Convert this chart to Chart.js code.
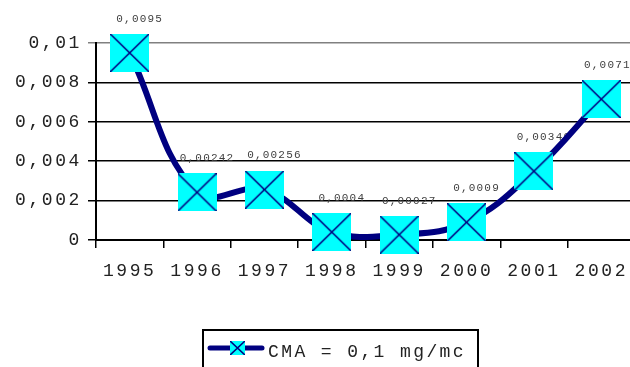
<!DOCTYPE html>
<html>
<head>
<meta charset="utf-8">
<script src="https://cdn.jsdelivr.net/npm/chart.js@4.4.1/dist/chart.umd.min.js"></script>
<style>
  html, body { margin: 0; padding: 0; background: #fff; overflow: hidden; }
  #wrap { width: 630px; height: 367px; overflow: hidden; }
</style>
</head>
<body>
<div id="wrap"><canvas id="chart" width="661" height="367"></canvas></div>
<script>
// date
const years = ['1995', '1996', '1997', '1998', '1999', '2000', '2001', '2002'];
const cmaValues = [0.0095, 0.00242, 0.00256, 0.0004, 0.00027, 0.0009, 0.00349, 0.00715];
const cmaLabels = ['0,0095', '0,00242', '0,00256', '0,0004', '0,00027', '0,0009', '0,00349', '0,00715'];
const seriesName = 'CMA = 0,1 mg/mc';

const NAVY = '#000080';
const CYAN = '#00ffff';
const FONT = '"Liberation Mono", "DejaVu Sans Mono", monospace';

// marker: patrat cyan cu X
function makeMarker(w, h, lw) {
    const c = document.createElement('canvas');
    c.width = w;
    c.height = h;
    const g = c.getContext('2d');
    g.fillStyle = CYAN;
    g.fillRect(0, 0, w, h);
    g.strokeStyle = NAVY;
    g.lineWidth = lw;
    g.beginPath();
    g.moveTo(0, 0); g.lineTo(w, h);
    g.moveTo(w, 0); g.lineTo(0, h);
    g.stroke();
    return c;
}
const bigMarker = makeMarker(39, 38, 1.6);
const smallMarker = makeMarker(15, 14, 1.6);

// spatiere litere ca in Excel
const spacingPlugin = {
    id: 'spacing',
    beforeLayout(chart) { chart.ctx.letterSpacing = '2.6px'; },
    beforeDraw(chart) { chart.ctx.letterSpacing = '2.6px'; }
};

// etichete valori
const valueLabels = {
    id: 'valueLabels',
    beforeDatasetsDraw(chart) {
        const ctx = chart.ctx;
        const meta = chart.getDatasetMeta(0);
        ctx.save();
        ctx.letterSpacing = '1.2px';
        ctx.font = '11px ' + FONT;
        ctx.fillStyle = '#404040';
        ctx.textAlign = 'center';
        ctx.textBaseline = 'middle';
        meta.data.forEach((pt, i) => {
            ctx.fillText(cmaLabels[i], pt.x + 10, pt.y - 34);
        });
        ctx.restore();
    }
};

// legenda cu chenar
const boxLegend = {
    id: 'boxLegend',
    afterDraw(chart) {
        const ctx = chart.ctx;
        ctx.save();
        ctx.strokeStyle = '#000';
        ctx.lineWidth = 2;
        ctx.strokeRect(203, 330, 275, 60);
        ctx.strokeStyle = NAVY;
        ctx.lineWidth = 5;
        ctx.lineCap = 'round';
        ctx.beginPath();
        ctx.moveTo(210, 348);
        ctx.lineTo(262, 348);
        ctx.stroke();
        ctx.drawImage(smallMarker, 230, 341);
        ctx.letterSpacing = '2.4px';
        ctx.font = '18px ' + FONT;
        ctx.fillStyle = '#222';
        ctx.textAlign = 'left';
        ctx.textBaseline = 'middle';
        ctx.fillText(chart.data.datasets[0].label, 268, 352);
        ctx.restore();
    }
};

const ctx = document.getElementById('chart').getContext('2d');
const chart = new Chart(ctx, {
    type: 'line',
    data: {
        labels: years,
        datasets: [{
            label: seriesName,
            data: cmaValues,
            borderColor: NAVY,
            borderWidth: 6,
            tension: 0.4,
            pointStyle: bigMarker,
            pointRadius: 20,
            clip: false
        }]
    },
    options: {
        responsive: false,
        devicePixelRatio: 1,
        animation: false,
        layout: { padding: { top: 43, right: 0, left: 0, bottom: 0 } },
        plugins: {
            legend: { display: false },
            tooltip: { enabled: false }
        },
        scales: {
            x: {
                offset: true,
                grid: {
                    offset: true,
                    drawOnChartArea: false,
                    color: '#000',
                    lineWidth: 1.5,
                    tickLength: 8
                },
                border: { color: '#000', width: 2 },
                ticks: {
                    font: { family: FONT, size: 18 },
                    color: '#222',
                    padding: 12,
                    maxRotation: 0,
                    autoSkip: false
                },
                afterFit(scale) { scale.height = 127; }
            },
            y: {
                min: 0,
                max: 0.01,
                grid: {
                    color: (c) => (c.tick && c.tick.value >= 0.01 ? '#808080' : '#000'),
                    lineWidth: 1.5,
                    tickLength: 8
                },
                border: { color: '#000', width: 2 },
                ticks: {
                    stepSize: 0.002,
                    font: { family: FONT, size: 18 },
                    color: '#222',
                    padding: 6,
                    callback: (v) => String(+v.toFixed(3)).replace('.', ',')
                },
                afterFit(scale) { scale.width = 96; }
            }
        }
    },
    plugins: [spacingPlugin, valueLabels, boxLegend]
});
</script>
</body>
</html>
